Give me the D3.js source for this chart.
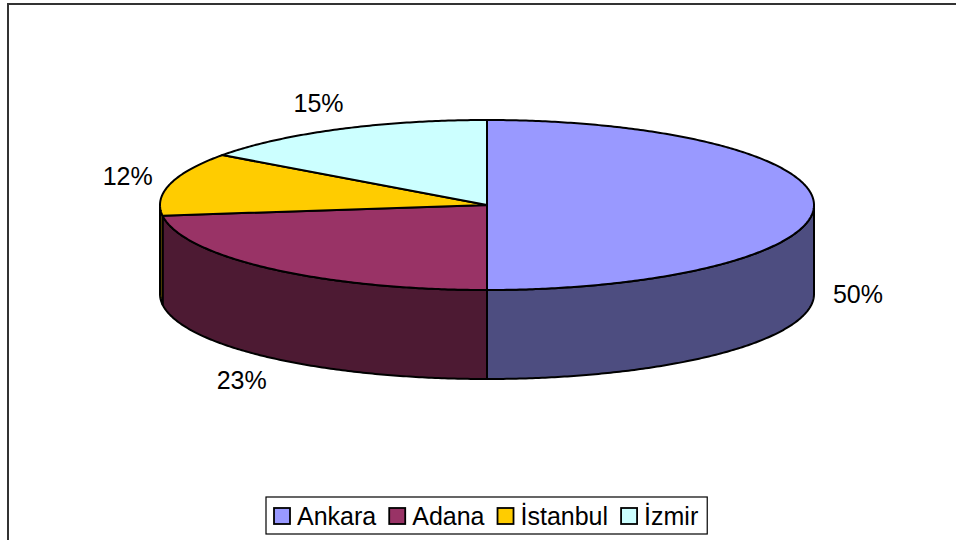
<!DOCTYPE html>
<html>
<head>
<meta charset="utf-8">
<script src="https://cdn.jsdelivr.net/npm/d3@7"></script>
<style>
  html, body { margin: 0; padding: 0; background: #fff; }
  svg { display: block; font-family: "Liberation Sans", Arial, sans-serif; }
</style>
</head>
<body>
<svg id="chart" width="956" height="540"></svg>
<script>
// ---- data ----
const categories = ["Ankara", "Adana", "İstanbul", "İzmir"];
const values = [50, 23, 12, 15];
const percentLabels = ["50%", "23%", "12%", "15%"];
const topColors = ["#9999FF", "#993366", "#FFCC00", "#CCFFFF"];
const sideColors = ["#4D4D80", "#4D1A33", "#806600", "#668080"];

// ---- layout ----
const cx = 487, cy = 205, rx = 327, ry = 85, depth = 89;

const svg = d3.select("#chart");

// outer frame (extends past right/bottom edge)
svg.append("rect")
  .attr("x", 8).attr("y", 4)
  .attr("width", 1000).attr("height", 600)
  .attr("fill", "#fff")
  .attr("stroke", "#333").attr("stroke-width", 2);

const color = d3.scaleOrdinal().domain(categories).range(topColors);
const sideColor = d3.scaleOrdinal().domain(categories).range(sideColors);

const pie = d3.pie().sort(null).value(d => d.value);
const arcs = pie(categories.map((c, i) => ({ name: c, value: values[i], label: percentLabels[i] })));

const px = (a) => cx + rx * Math.sin(a);
const py = (a) => cy - ry * Math.cos(a);

function arcPoints(a0, a1, dy) {
  const n = Math.max(2, Math.ceil(Math.abs(a1 - a0) / 0.01));
  const pts = [];
  for (let i = 0; i <= n; i++) {
    const a = a0 + (a1 - a0) * i / n;
    pts.push([px(a), py(a) + dy]);
  }
  return pts;
}

const line = d3.line();
const g = svg.append("g");

// sides (front half only)
arcs.forEach(d => {
  const s = Math.max(d.startAngle, Math.PI / 2);
  const e = Math.min(d.endAngle, 3 * Math.PI / 2);
  if (s < e) {
    const pts = arcPoints(s, e, 0).concat(arcPoints(e, s, depth));
    g.append("path")
      .attr("d", line(pts) + "Z")
      .attr("fill", sideColor(d.data.name))
      .attr("stroke", "#000").attr("stroke-width", 2)
      .attr("stroke-linejoin", "round");
  }
});

// top faces
arcs.forEach(d => {
  const pts = [[cx, cy]].concat(arcPoints(d.startAngle, d.endAngle, 0));
  g.append("path")
    .attr("d", line(pts) + "Z")
    .attr("fill", color(d.data.name))
    .attr("stroke", "#000").attr("stroke-width", 2)
    .attr("stroke-linejoin", "round");
});

// percentage labels
arcs.forEach(d => {
  const m = (d.startAngle + d.endAngle) / 2;
  const front = Math.cos(m) <= 0.001;
  const bx = px(m), by = py(m) + (front ? depth : 0);
  const lx = bx + 44 * Math.sin(m);
  const ly = by - 30 * Math.cos(m);
  svg.append("text")
    .attr("x", lx).attr("y", ly)
    .attr("text-anchor", "middle")
    .attr("dominant-baseline", "central")
    .attr("font-size", 25)
    .attr("fill", "#000")
    .text(d.data.label);
});

// legend
const legend = svg.append("g");
const legBox = legend.append("rect")
  .attr("y", 497).attr("height", 37)
  .attr("fill", "#fff").attr("stroke", "#000").attr("stroke-width", 1.2);
let xPos = 274;
const legStart = 266;
categories.forEach((c, i) => {
  legend.append("rect")
    .attr("x", xPos).attr("y", 508).attr("width", 16).attr("height", 16)
    .attr("fill", color(c)).attr("stroke", "#000").attr("stroke-width", 1.8);
  const t = legend.append("text")
    .attr("x", xPos + 23).attr("y", 525)
    .attr("font-size", 25)
    .attr("fill", "#000")
    .text(c);
  const w = t.node().getComputedTextLength();
  xPos = xPos + 23 + w + (i < categories.length - 1 ? 13 : 9);
});
legBox.attr("x", legStart).attr("width", xPos - legStart);
</script>
</body>
</html>
